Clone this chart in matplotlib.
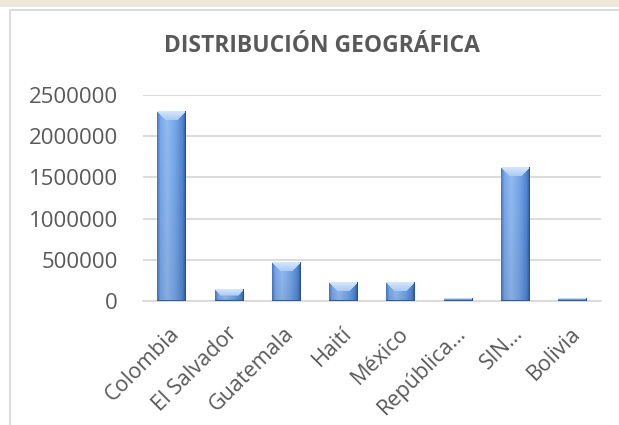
import matplotlib

matplotlib.use("Agg")

import matplotlib.pyplot as plt
import matplotlib.transforms as mtransforms
import numpy as np
from matplotlib.colors import to_rgb
from matplotlib.patches import Rectangle

countries = ["Colombia", "El Salvador", "Guatemala", "Haití", "México",
             "República…", "SIN…", "Bolivia"]
people = [2300000, 135000, 470000, 230000, 230000, 30000, 1620000, 30000]
y_ticks = [0, 500000, 1000000, 1500000, 2000000, 2500000]
title = "DISTRIBUCIÓN GEOGRÁFICA"

TEXT = "#595959"
GRID = "#d9d9d9"
W, H = 619, 425


def _ramp(t, stops):
    # piecewise-linear colour ramp, stops = [(pos, hex), ...]
    pos = np.array([p for p, _ in stops])
    cols = np.array([to_rgb(c) for _, c in stops])
    return np.stack([np.interp(t, pos, cols[:, k]) for k in range(3)], axis=-1)


def _bar_shading(w_px, h_px):
    nx = max(int(round(w_px)), 2)
    ny = max(int(round(h_px)), 2)
    U, V = np.meshgrid(np.arange(nx) + 0.5, np.arange(ny) + 0.5)
    face = _ramp(U / nx, [(0.0, "#4575c2"), (0.12, "#79a8ea"), (0.35, "#93bcf2"),
                          (0.65, "#75a5e6"), (0.88, "#5286d4"), (1.0, "#2f5ba0")])
    dark = np.clip((V / ny) * 0.08, 0, 0.08)[..., None]
    img = face * (1 - dark)
    b = min(9.0, nx * 0.4, ny * 0.55)
    dl, dr, dt, db = U, nx - U, V, ny - V
    top = (dt < b) & (dt <= dl) & (dt <= dr)
    top_col = _ramp(dt / max(b, 1), [(0.0, "#d6e7fb"), (1.0, "#a9cbf5")])
    img[top] = top_col[top]
    img[db < 1.5] = to_rgb("#2f5a9e")
    img[dr < 1.2] = to_rgb("#27508f")
    return img


fig = plt.figure(figsize=(W / 100, H / 100), dpi=100)
fig.patch.set_facecolor("white")

# page strip above the chart object and the chart border
fig.add_artist(Rectangle((0, 1 - 7 / H), 1, 7 / H, transform=fig.transFigure,
                         facecolor="#ece9d8", edgecolor="none"))
fig.add_artist(Rectangle((10 / W, -0.1), 1.2, 1.1 - 10 / H, transform=fig.transFigure,
                         fill=False, edgecolor=GRID, linewidth=1.3))

ax = fig.add_axes([143 / W, 1 - 301 / H, (601 - 143) / W, (301 - 95) / H])
x = np.arange(len(countries))
bars = ax.bar(x, people, width=0.5, color="#5b8ed8", zorder=2)
ax.set_xlim(-0.5, len(countries) - 0.5)
ax.set_ylim(0, 2500000)

for patch in bars:
    x0, y0 = patch.get_x(), patch.get_y()
    x1, y1 = x0 + patch.get_width(), y0 + patch.get_height()
    (px0, py0), (px1, py1) = ax.transData.transform([(x0, y0), (x1, y1)])
    img = _bar_shading(px1 - px0, py1 - py0)
    ax.imshow(img, extent=(x0, x1, y0, y1), origin="upper", aspect="auto",
              interpolation="bilinear", zorder=3)
ax.set_xlim(-0.5, len(countries) - 0.5)
ax.set_ylim(0, 2500000)

ax.set_yticks(y_ticks)
ax.set_yticklabels([str(v) for v in y_ticks])
ax.yaxis.grid(True, color=GRID, linewidth=1.3)
ax.set_axisbelow(True)
for side in ("left", "right", "top"):
    ax.spines[side].set_visible(False)
ax.spines["bottom"].set_color(GRID)
ax.spines["bottom"].set_linewidth(1.3)
ax.tick_params(axis="y", length=0, pad=18, labelsize=16, labelcolor=TEXT)
ax.tick_params(axis="x", length=0, pad=21, labelsize=15.5, labelcolor=TEXT)
for lab in ax.get_yticklabels():
    lab.set_family("Open Sans")

ax.set_xticks(x)
ax.set_xticklabels(countries, rotation=45, ha="right", va="center",
                   rotation_mode="anchor", family="Open Sans")
shift = mtransforms.ScaledTranslation(5 / 100, 0, fig.dpi_scale_trans)
for lab in ax.get_xticklabels():
    lab.set_transform(lab.get_transform() + shift)

fig.text(322 / W, 1 - 46 / H, title, fontsize=16.5, fontweight="bold",
         color=TEXT, family="Open Sans", ha="center", va="center")

fig.savefig("out.png", dpi=100)
